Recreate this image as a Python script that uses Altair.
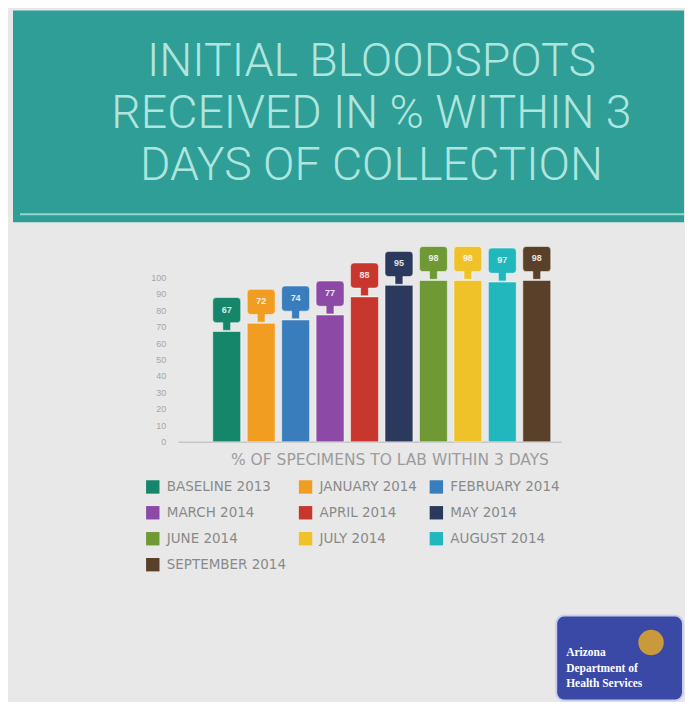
import altair as alt
import pandas as pd

# ---- data ----
categories = ["BASELINE 2013", "JANUARY 2014", "FEBRUARY 2014", "MARCH 2014", "APRIL 2014",
              "MAY 2014", "JUNE 2014", "JULY 2014", "AUGUST 2014", "SEPTEMBER 2014"]
values = [67, 72, 74, 77, 88, 95, 98, 98, 97, 98]
colors = ["#16866a", "#f19d22", "#3a7dbd", "#8c4aa6", "#c8372d",
          "#2b3a5c", "#6f9935", "#f0c22a", "#22b6bd", "#5a4029"]
y_ticks = [0, 10, 20, 30, 40, 50, 60, 70, 80, 90, 100]
title_lines = ["INITIAL BLOODSPOTS", "RECEIVED IN % WITHIN 3", "DAYS OF COLLECTION"]
x_title = "% OF SPECIMENS TO LAB WITHIN 3 DAYS"
logo_lines = ["Arizona", "Department of", "Health Services"]

df = pd.DataFrame({"period": categories, "pct": values})
one = alt.Data(values=[{}])

badge_path = ("M -0.75 -1 L 0.75 -1 Q 1 -1 1 -0.75 L 1 0.55 Q 1 0.8 0.75 0.8 "
              "L 0.28 0.8 L 0.28 1.35 L -0.28 1.35 L -0.28 0.8 L -0.75 0.8 "
              "Q -1 0.8 -1 0.55 L -1 -0.75 Q -1 -1 -0.75 -1 Z")

color_scale = alt.Scale(domain=categories, range=colors)

x_enc = alt.X("period:N", sort=categories,
              scale=alt.Scale(paddingInner=0.19, paddingOuter=0.66, align=0.77),
              axis=alt.Axis(labels=False, ticks=False, domain=True, domainColor="#c6c6c6",
                            domainWidth=1.5, title=x_title, titleColor="#9c9c9c",
                            titleFont="DejaVu Sans", titleFontSize=15.5,
                            titleFontWeight="normal", titlePadding=11, titleX=212))
y_enc = alt.Y("pct:Q", scale=alt.Scale(domain=[0, 100]),
              axis=alt.Axis(values=y_ticks, grid=False, domain=False, ticks=False,
                            labelColor="#a6a6a6", labelFontSize=9, labelPadding=12,
                            labelOverlap=False, title=None))
color_enc = alt.Color("period:N", scale=color_scale,
                      legend=alt.Legend(orient="none", legendX=-32, legendY=203, columns=3,
                                        direction="horizontal",
                                        title=None, symbolType="square", symbolSize=180,
                                        symbolStrokeWidth=0, labelFontSize=13.5,
                                        labelColor="#8a8a8a", labelFont="DejaVu Sans",
                                        rowPadding=12, columnPadding=12, labelOffset=7))

header = alt.Chart(one).mark_rect(color="#2f9e96").encode(
    x=alt.value(-165), x2=alt.value(507), y=alt.value(-267), y2=alt.value(-55))
header_line = alt.Chart(one).mark_rule(color="#8fd6cd", strokeWidth=2).encode(
    x=alt.value(-158), x2=alt.value(507), y=alt.value(-63))
title = alt.Chart(one).mark_text(
    text=title_lines, font="Roboto", fontWeight=300, fontSize=46.5, lineHeight=52,
    color="#aee6df", align="center", baseline="middle").encode(
    x=alt.value(194), y=alt.value(-215))

bars = alt.Chart(df).mark_bar(stroke="#ffffff", strokeOpacity=0.5, strokeWidth=1).encode(
    x=x_enc, y=y_enc, color=color_enc)
badges = alt.Chart(df).mark_point(
    shape=badge_path, size=784, filled=True, opacity=1, yOffset=-20,
    stroke="#ffffff", strokeOpacity=0.5, strokeWidth=1).encode(
    x=x_enc, y=y_enc, color=alt.Color("period:N", scale=color_scale, legend=None))
badge_text = alt.Chart(df).mark_text(
    yOffset=-22, fontSize=9, fontWeight="bold", color="#ffffff", opacity=0.85,
    baseline="middle").encode(x=x_enc, y=y_enc, text="pct:Q")

logo_box = alt.Chart(one).mark_rect(
    color="#3a48a6", cornerRadius=8, stroke="#c9cde8", strokeWidth=2).encode(
    x=alt.value(379), x2=alt.value(506), y=alt.value(339), y2=alt.value(424))
logo_sun = alt.Chart(one).mark_circle(color="#c99a3c", opacity=1, size=650).encode(
    x=alt.value(474), y=alt.value(366))
logo_text = alt.Chart(one).mark_text(
    text=logo_lines, align="left", baseline="top", font="Liberation Serif",
    fontWeight="bold", fontSize=11.5, lineHeight=16, color="#ffffff").encode(
    x=alt.value(389), y=alt.value(370))

chart = alt.layer(header, header_line, title, bars, badges, badge_text,
                  logo_box, logo_sun, logo_text).properties(
    width=384, height=165,
    background="#e8e8e8",
    padding={"left": 5, "top": 2, "right": 0, "bottom": 0},
).configure_view(stroke=None)

chart.save("out.html", embed_options={"renderer": "svg", "actions": False})
